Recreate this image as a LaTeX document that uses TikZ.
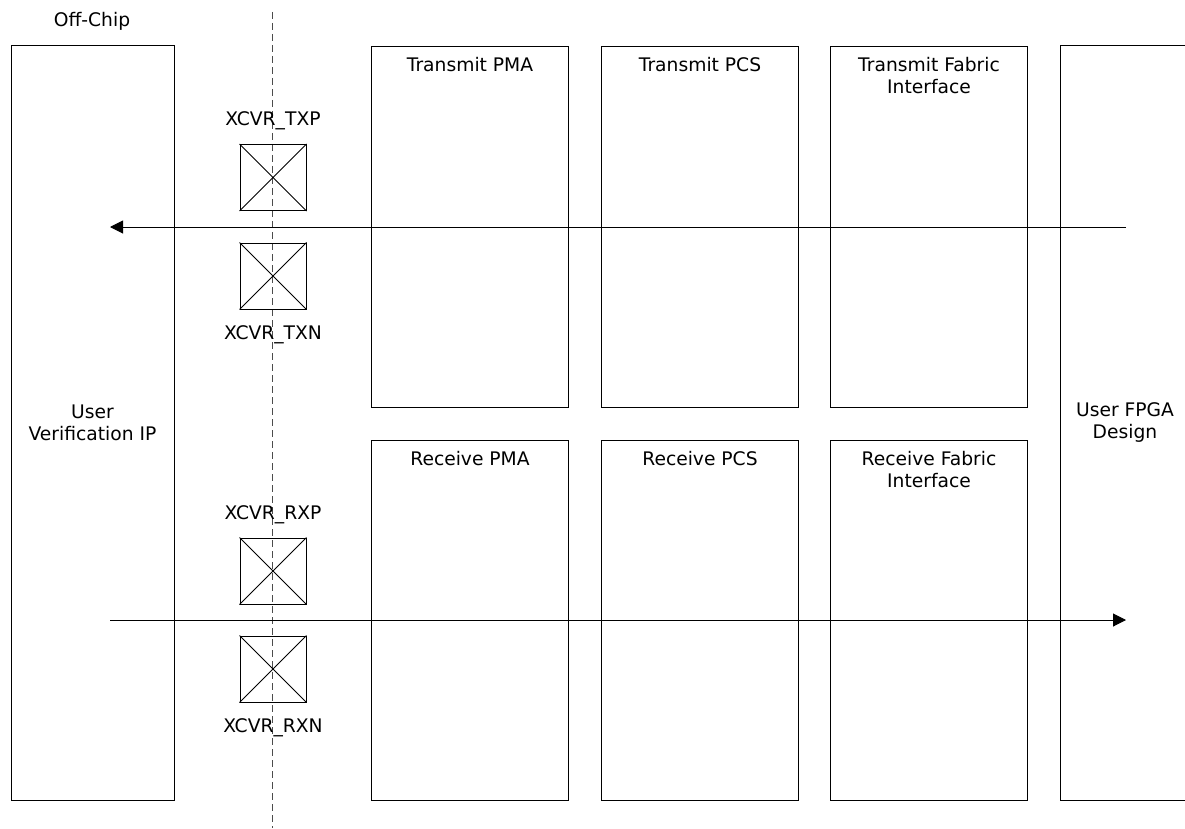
\documentclass[tikz,border=0pt]{standalone}
\usepackage{fontspec}
\setmainfont{DejaVu Sans}
\usetikzlibrary{arrows.meta,calc}
\begin{document}
\begin{tikzpicture}[x=1pt,y=-1pt,
  blk/.style={draw, line width=1pt, inner sep=0pt, align=center, font=\fontsize{18.7}{22}\selectfont},
  lbl/.style={font=\fontsize{18.7}{22}\selectfont, align=center, inner sep=0pt},
  pin/.style={draw, line width=1pt, minimum width=66pt, minimum height=66pt, inner sep=0pt},
  xline/.style={line width=0.8pt},
  sig/.style={line width=1pt, -{Triangle[length=13pt,width=13pt]}},
  bnd/.style={dash pattern=on 7pt off 4pt, line width=1pt, draw=black!70}]
\useasboundingbox (0,0) rectangle (1185,829);
\clip (0,0) rectangle (1185,829);

% big side boxes
\node[blk, minimum width=163pt, minimum height=754pt] (uvip) at (92.5,423) {User\\Verification IP};
\node[blk, minimum width=130pt, minimum height=754pt] (ufpga) at (1125,423) {User FPGA\\Design};

% transmit blocks
\node[blk, minimum width=197pt, minimum height=361pt, anchor=north west] (tpma) at (371,46) {};
\node[blk, minimum width=197pt, minimum height=361pt, anchor=north west] (tpcs) at (601,46) {};
\node[blk, minimum width=197pt, minimum height=361pt, anchor=north west] (tfab) at (830,46) {};
% receive blocks
\node[blk, minimum width=197pt, minimum height=360pt, anchor=north west] (rpma) at (371,440) {};
\node[blk, minimum width=197pt, minimum height=360pt, anchor=north west] (rpcs) at (601,440) {};
\node[blk, minimum width=197pt, minimum height=360pt, anchor=north west] (rfab) at (830,440) {};

\node[lbl, anchor=north] (tpmal) at ($(tpma.north)+(0,11.5)$) {Transmit PMA};
\node[lbl, anchor=north] (tpcsl) at ($(tpcs.north)+(0,11.5)$) {Transmit PCS};
\node[lbl, anchor=north] (tfabl) at ($(tfab.north)+(0,11.5)$) {Transmit Fabric\\Interface};
\node[lbl, anchor=north] (rpmal) at ($(rpma.north)+(0,11.5)$) {Receive PMA};
\node[lbl, anchor=north] (rpcsl) at ($(rpcs.north)+(0,11.5)$) {Receive PCS};
\node[lbl, anchor=north] (rfabl) at ($(rfab.north)+(0,11.5)$) {Receive Fabric\\Interface};

\node[lbl, anchor=base] (offchip) at (92,27) {Off-Chip};

% boundary
\coordinate (bndtop) at (272.5,12);
\coordinate (bndbot) at (272.5,828);
\draw[bnd] (bndtop) -- (bndbot);

% pins
\node[pin] (txp) at (273,177.5) {};
\node[pin] (txn) at (273,276) {};
\node[pin] (rxp) at (273,571) {};
\node[pin] (rxn) at (273,669) {};
\foreach \p in {txp,txn,rxp,rxn}{
  \draw[xline] (\p.north west) -- (\p.south east) (\p.north east) -- (\p.south west);
}
\node[lbl, anchor=base] (txpl) at ($(txp.north)+(0,-18)$) {XCVR\_TXP};
\node[lbl, anchor=base] (txnl) at ($(txn.south)+(0,30)$) {XCVR\_TXN};
\node[lbl, anchor=base] (rxpl) at ($(rxp.north)+(0,-18)$) {XCVR\_RXP};
\node[lbl, anchor=base] (rxnl) at ($(rxn.south)+(0,30)$) {XCVR\_RXN};

% signal arrows
\coordinate (txs) at (1126,227);
\coordinate (txe) at (110,227);
\coordinate (rxs) at (110,620);
\coordinate (rxe) at (1126,620);
\draw[sig] (txs) -- (txe);
\draw[sig] (rxs) -- (rxe);
\end{tikzpicture}
\end{document}
